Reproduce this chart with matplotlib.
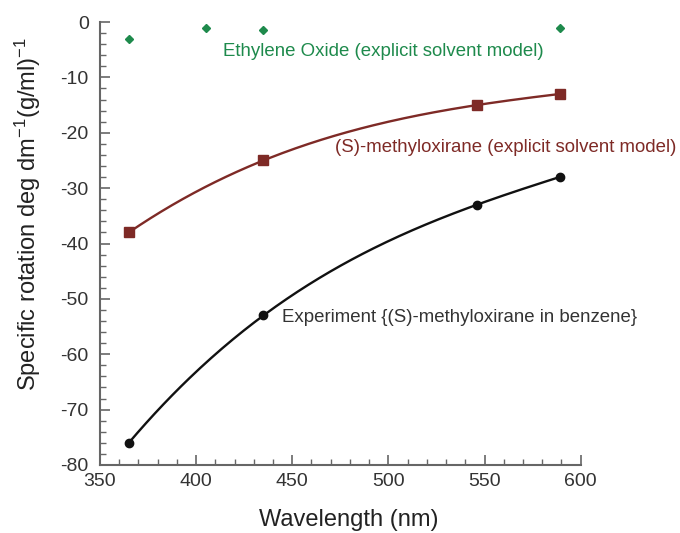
import numpy as np
import matplotlib
matplotlib.use("Agg")
import matplotlib.pyplot as plt
from matplotlib.ticker import MultipleLocator

plt.rcParams['font.family'] = ['Liberation Sans', 'DejaVu Sans']
plt.rcParams['mathtext.default'] = 'regular'
plt.rcParams['axes.unicode_minus'] = False

# data
wl_eo = [365, 405, 435, 589]
rot_eo = [-3, -1, -1.5, -1]

wl_mo = [365, 435, 546, 589]
rot_mo = [-38, -25, -15, -13]

wl_exp = [365, 435, 546, 589]
rot_exp = [-76, -53, -33, -28]

green = '#1e8a4c'
red = '#7e2a26'
black = '#111111'
grey = '#666666'

fig = plt.figure(figsize=(6.8, 5.33), dpi=100)
ax = fig.add_axes([0.147, 0.1276, 0.707, 0.8311])

# smooth curves through the points
xs = np.linspace(365, 589, 200)
p_mo = np.polyfit(wl_mo, rot_mo, 3)
p_exp = np.polyfit(wl_exp, rot_exp, 3)
ax.plot(xs, np.polyval(p_mo, xs), color=red, lw=1.7)
ax.plot(xs, np.polyval(p_exp, xs), color=black, lw=1.7)

ax.plot(wl_eo, rot_eo, 'D', color=green, ms=4.5, ls='none')
ax.plot(wl_mo, rot_mo, 's', color=red, ms=6.5, ls='none')
ax.plot(wl_exp, rot_exp, 'o', color=black, ms=6, ls='none')

ax.text(414, -5.4, 'Ethylene Oxide (explicit solvent model)', color=green,
        fontsize=13.4, va='center')
ax.text(472, -22.6, '(S)-methyloxirane (explicit solvent model)', color=red,
        fontsize=13.4, va='center')
ax.text(444.5, -53.4, 'Experiment {(S)-methyloxirane in benzene}', color='#333333',
        fontsize=13.4, va='center')

ax.set_xlim(350, 600)
ax.set_ylim(-80, 0)
ax.xaxis.set_major_locator(MultipleLocator(50))
ax.xaxis.set_minor_locator(MultipleLocator(10))
ax.yaxis.set_major_locator(MultipleLocator(10))
ax.yaxis.set_minor_locator(MultipleLocator(2))
ax.tick_params(which='both', direction='in', color=grey, labelsize=14, labelcolor='#333333')
ax.tick_params(which='major', length=7, width=1.2)
ax.tick_params(which='minor', length=4, width=1)
ax.tick_params(axis='y', pad=8)
ax.tick_params(axis='x', pad=6)

for s in ['top', 'right']:
    ax.spines[s].set_visible(False)
for s in ['left', 'bottom']:
    ax.spines[s].set_color(grey)
    ax.spines[s].set_linewidth(1.5)

ax.set_xlabel('Wavelength (nm)', fontsize=17, color='#222222')
ax.set_ylabel('Specific rotation deg dm$^{-1}$(g/ml)$^{-1}$', fontsize=17, color='#222222')
ax.xaxis.set_label_coords(0.518, -0.10)
ax.yaxis.set_label_coords(-0.118, 0.566)

fig.savefig('out.png', dpi=100)
